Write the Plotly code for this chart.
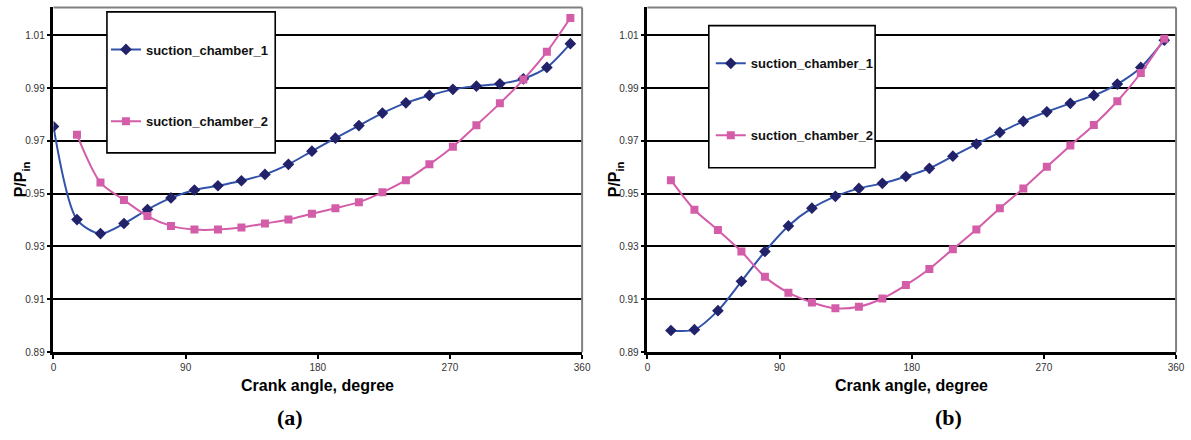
import plotly.graph_objects as go

# Crank angles (degrees) at which the pressure ratio was sampled
angle_a1 = [0, 16, 32, 48, 64, 80, 96, 112, 128, 144, 160, 176, 192, 208, 224,
            240, 256, 272, 288, 304, 320, 336, 352]
angle_rest = [16, 32, 48, 64, 80, 96, 112, 128, 144, 160, 176, 192, 208, 224,
              240, 256, 272, 288, 304, 320, 336, 352]

# (a) pressure ratio P/P_in
p_a1 = [0.9754, 0.9402, 0.9349, 0.9387, 0.9440, 0.9484, 0.9514, 0.9530, 0.9549,
        0.9573, 0.9611, 0.9661, 0.9710, 0.9758, 0.9805, 0.9844, 0.9872, 0.9895,
        0.9907, 0.9916, 0.9935, 0.9978, 1.0068]
p_a2 = [0.9723, 0.9542, 0.9476, 0.9415, 0.9378, 0.9364, 0.9364, 0.9372, 0.9387,
        0.9402, 0.9424, 0.9445, 0.9468, 0.9505, 0.9551, 0.9611, 0.9678, 0.9759,
        0.9842, 0.9932, 1.0037, 1.0165]

# (b) pressure ratio P/P_in
p_b1 = [0.8982, 0.8985, 0.9057, 0.9168, 0.9281, 0.9378, 0.9445, 0.9490, 0.9520,
        0.9539, 0.9565, 0.9596, 0.9642, 0.9688, 0.9732, 0.9774, 0.9810, 0.9842,
        0.9872, 0.9915, 0.9978, 1.0081]
p_b2 = [0.9551, 0.9439, 0.9362, 0.9281, 0.9185, 0.9125, 0.9088, 0.9066, 0.9072,
        0.9103, 0.9154, 0.9215, 0.9290, 0.9364, 0.9445, 0.9520, 0.9602, 0.9682,
        0.9760, 0.9850, 0.9957, 1.0087]

x_ticks = [0, 90, 180, 270, 360]
y_ticks = [0.89, 0.91, 0.93, 0.95, 0.97, 0.99, 1.01]
y_tick_text = ["0.89", "0.91", "0.93", "0.95", "0.97", "0.99", "1.01"]
series_names = ["suction_chamber_1", "suction_chamber_2"]

W, H = 1191, 440
SANS = "Liberation Sans, Arial, sans-serif"
SERIF = "Liberation Serif, Times New Roman, serif"
BLUE_LINE = "#3152A8"
BLUE_MARK = "#22226B"
PINK = "#D45DA9"


def px_x(v):
    return v / W


def px_y(v):
    return (H - v) / H


fig = go.Figure()

panels = [
    ("x", "y", "legend", angle_a1, p_a1, angle_rest, p_a2),
    ("x2", "y2", "legend2", angle_rest, p_b1, angle_rest, p_b2),
]
for xa, ya, leg, xs1, ys1, xs2, ys2 in panels:
    fig.add_trace(go.Scatter(
        x=xs1, y=ys1, name=series_names[0], xaxis=xa, yaxis=ya, legend=leg,
        legendgroup=leg + "s1", mode="lines+markers",
        line=dict(color=BLUE_LINE, width=2, shape="spline", smoothing=0.8),
        marker=dict(symbol="diamond", size=9, color=BLUE_MARK),
    ))
    fig.add_trace(go.Scatter(
        x=xs2, y=ys2, name=series_names[1], xaxis=xa, yaxis=ya, legend=leg,
        legendgroup=leg + "s2", mode="lines+markers",
        line=dict(color=PINK, width=2, shape="spline", smoothing=0.8),
        marker=dict(symbol="square", size=8, color=PINK),
    ))

y_dom = [px_y(357), px_y(7.5)]
y_rng = [0.89, 0.89 + (357 - 7.5) / 53.55 * 0.02]

xaxis_common = dict(
    range=[0, 360], tickvals=x_ticks, ticktext=[str(t) for t in x_ticks],
    showgrid=False, zeroline=False, showline=True, linecolor="black",
    linewidth=2.5, ticks="outside", ticklen=4, tickwidth=1.5,
    tickcolor="black", tickfont=dict(family=SANS, size=10, color="#333333"),
    fixedrange=True,
)
yaxis_common = dict(
    range=y_rng, domain=y_dom, tickvals=y_ticks, ticktext=y_tick_text,
    showgrid=True, gridcolor="black", gridwidth=1.8, zeroline=False,
    showline=True, linecolor="black", linewidth=2.5, ticks="outside",
    ticklen=4, tickwidth=1.5, tickcolor="black",
    tickfont=dict(family=SANS, size=10, color="#333333"), fixedrange=True,
)

legend_common = dict(
    font=dict(family=SANS, size=13, color="#111111", weight="bold"),
    bgcolor="rgba(0,0,0,0)", borderwidth=0, tracegroupgap=52,
    xanchor="left", yanchor="top", itemclick=False, itemdoubleclick=False,
)

fig.update_layout(
    width=W, height=H, margin=dict(l=0, r=0, t=0, b=0),
    paper_bgcolor="white", plot_bgcolor="white", showlegend=True,
    xaxis=dict(domain=[px_x(51), px_x(585)], anchor="y", **xaxis_common),
    yaxis=dict(anchor="x", **yaxis_common),
    xaxis2=dict(domain=[px_x(651), px_x(1185)], anchor="y2", **xaxis_common),
    yaxis2=dict(anchor="x2", **yaxis_common),
    legend=dict(x=px_x(104), y=px_y(35), **legend_common),
    legend2=dict(x=px_x(715), y=px_y(49), **legend_common),
)

# Gray top/right plot-area border and the framed legend boxes
for xa, ya in [("x", "y"), ("x2", "y2")]:
    fig.add_shape(type="line", xref=f"{xa} domain", yref=f"{ya} domain",
                  x0=0, x1=1, y0=1, y1=1, line=dict(color="#808080", width=2))
    fig.add_shape(type="line", xref=f"{xa} domain", yref=f"{ya} domain",
                  x0=1, x1=1, y0=0, y1=1, line=dict(color="#808080", width=2))

for x0, x1, y0, y1 in [(105, 275, 12, 155), (713, 881, 26, 170)]:
    fig.add_shape(type="rect", xref="paper", yref="paper", layer="above",
                  x0=px_x(x0), x1=px_x(x1), y0=px_y(y1), y1=px_y(y0),
                  fillcolor="white", line=dict(color="black", width=1.6))

# Axis titles and panel labels
for cx in (318, 918):
    fig.add_annotation(text="Crank angle, degree", xref="paper", yref="paper",
                       x=px_x(cx), y=px_y(391), showarrow=False,
                       xanchor="center", yanchor="middle",
                       font=dict(family=SANS, size=16, color="black", weight="bold"))
for cx in (19, 619):
    fig.add_annotation(text="P/P<sub>in</sub>", xref="paper", yref="paper",
                       x=px_x(cx), y=px_y(182), showarrow=False, textangle=-90,
                       xanchor="center", yanchor="middle",
                       font=dict(family=SANS, size=16, color="black", weight="bold"))
for cx, lab in [(290, "(a)"), (955, "(b)")]:
    fig.add_annotation(text=lab, xref="paper", yref="paper",
                       x=px_x(cx), y=px_y(423), showarrow=False,
                       xanchor="center", yanchor="middle",
                       font=dict(family=SERIF, size=22, color="black", weight="bold"))

fig.write_html("out.html")
